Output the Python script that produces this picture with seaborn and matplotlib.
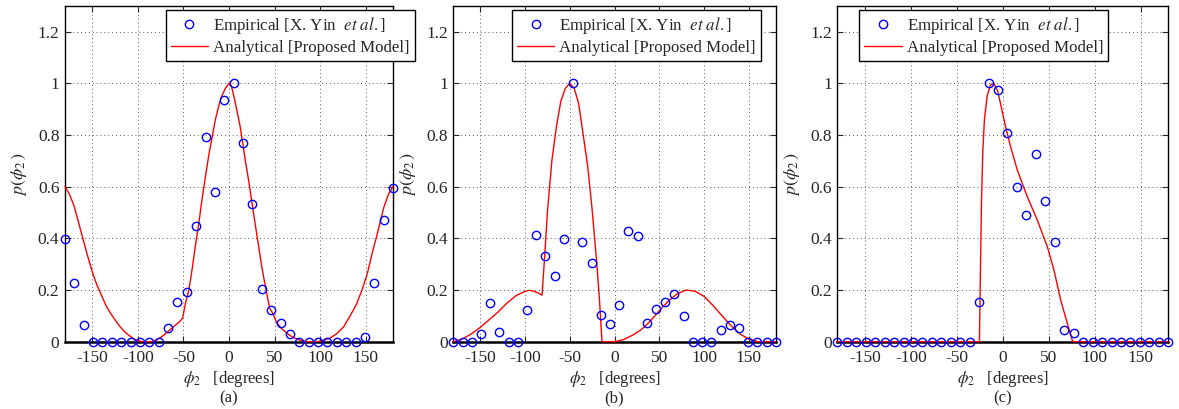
import numpy as np
import pandas as pd
import seaborn as sns
import matplotlib.pyplot as plt

# empirical sample angles (same for all three panels)
phi_emp = [-180.0, -169.7, -159.4, -149.1, -138.9, -128.6, -118.3, -108.0, -97.7, -87.4,
           -77.1, -66.9, -56.6, -46.3, -36.0, -25.7, -15.4, -5.1, 5.1, 15.4,
           25.7, 36.0, 46.3, 56.6, 66.9, 77.1, 87.4, 97.7, 108.0, 118.3,
           128.6, 138.9, 149.1, 159.4, 169.7, 180.0]

emp_a = [0.396, 0.228, 0.065, 0, 0, 0, 0, 0, 0, 0,
         0, 0.054, 0.154, 0.194, 0.448, 0.791, 0.578, 0.935, 1.0, 0.768,
         0.534, 0.204, 0.123, 0.074, 0.028, 0, 0, 0, 0, 0,
         0, 0, 0.019, 0.228, 0.471, 0.596]
emp_b = [0, 0, 0, 0.028, 0.15, 0.036, 0, 0, 0.121, 0.414,
         0.33, 0.253, 0.397, 1.0, 0.385, 0.305, 0.102, 0.067, 0.141, 0.43,
         0.408, 0.071, 0.126, 0.152, 0.185, 0.101, 0, 0, 0, 0.046,
         0.065, 0.054, 0, 0, 0, 0]
emp_c = [0, 0, 0, 0, 0, 0, 0, 0, 0, 0,
         0, 0, 0, 0, 0, 0.155, 1.0, 0.974, 0.808, 0.6,
         0.492, 0.726, 0.545, 0.387, 0.045, 0.032, 0, 0, 0, 0,
         0, 0, 0, 0, 0, 0]

# analytical model curves
phi_a = [-180, -175, -170, -165, -160, -155, -150, -145, -140, -135, -130, -125, -120,
         -115, -110, -105, -100, -95, -90, -85, -80, -75, -70, -65, -60, -55, -51,
         -47, -44, -40, -37, -33, -30, -26, -22, -18, -15, -11, -8, -4, 0,
         3, 6, 9, 12.4, 15, 18, 22, 25.3, 29, 32.6, 36, 40, 44.7, 48, 52.8, 58,
         63.8, 70, 78, 85, 95, 100, 105, 111, 118, 126, 133, 140, 146, 152, 157,
         163, 170, 175, 180]
ana_a = [0.60, 0.57, 0.525, 0.46, 0.395, 0.33, 0.27, 0.22, 0.18, 0.14, 0.11, 0.084, 0.06,
         0.04, 0.025, 0.012, 0.004, 0.0, 0.0, 0.0, 0.006, 0.016, 0.03, 0.045, 0.06, 0.075, 0.09,
         0.16, 0.2, 0.29, 0.368, 0.46, 0.54, 0.635, 0.725, 0.80, 0.858, 0.915, 0.949, 0.98, 1.0,
         0.985, 0.94, 0.89, 0.83, 0.77, 0.70, 0.615, 0.536, 0.45, 0.368, 0.29, 0.213, 0.13, 0.11, 0.071, 0.05,
         0.032, 0.017, 0.006, 0.0, 0.0, 0.002, 0.007, 0.014, 0.03, 0.058, 0.10, 0.145, 0.20, 0.265, 0.34,
         0.42, 0.52, 0.57, 0.60]

phi_b = [-180, -170, -160, -150, -140, -130, -120, -110, -100, -95, -90, -85, -81,
         -78, -75, -70, -65, -60, -55, -50, -45, -40, -35, -30, -25, -20, -17, -14,
         0, 10, 20, 30, 40, 50, 60, 70, 80, 90, 100, 110, 120, 130, 140, 150, 160, 180]
ana_b = [0.0, 0.01, 0.03, 0.055, 0.085, 0.115, 0.15, 0.178, 0.195, 0.199, 0.195, 0.188, 0.18,
         0.33, 0.50, 0.70, 0.83, 0.93, 0.98, 1.0, 0.98, 0.92, 0.80, 0.68, 0.51, 0.31, 0.17, 0.0,
         0.0, 0.008, 0.025, 0.047, 0.08, 0.12, 0.157, 0.185, 0.20, 0.195, 0.175, 0.14, 0.10, 0.062, 0.03, 0.01, 0.0, 0.0]

phi_c = [-180, -25.4, -24.3, -23.2, -21.8, -20, -17, -13.4, -10, -5.4, -1.8, 3, 8.4,
         15.7, 26.6, 37.5, 48.4, 55.6, 63, 70.2, 75.7, 77, 180]
ana_c = [0, 0, 0.28, 0.54, 0.73, 0.86, 0.95, 0.994, 1.0, 0.968, 0.91, 0.832, 0.755,
         0.665, 0.561, 0.471, 0.368, 0.278, 0.161, 0.071, 0.004, 0, 0]

panel_tags = ["(a)", "(b)", "(c)"]
xtick_vals = [-150, -100, -50, 0, 50, 100, 150]
ytick_vals = [0, 0.2, 0.4, 0.6, 0.8, 1.0, 1.2]
ytick_labels = ["0", "0.2", "0.4", "0.6", "0.8", "1", "1.2"]
lbl_emp = r"Empirical [X. Yin  $\mathit{et\ al.}$]"
lbl_ana = "Analytical [Proposed Model]"

sns.set_style("ticks")
plt.rcParams['font.family'] = ['Liberation Serif', 'DejaVu Serif']
plt.rcParams['mathtext.fontset'] = 'stix'
plt.rcParams['axes.unicode_minus'] = False
plt.rcParams['font.size'] = 12.5

fig = plt.figure(figsize=(11.79, 4.09), dpi=100)

boxes = [(0.0551, 0.1646, 0.2782, 0.8215),
         (0.3845, 0.1646, 0.2735, 0.8215),
         (0.7102, 0.1646, 0.2807, 0.8215)]
leg_x = [0.307, 0.182, 0.066]

emp_all = [emp_a, emp_b, emp_c]
curves = [(phi_a, ana_a), (phi_b, ana_b), (phi_c, ana_c)]

for i in range(3):
    ax = fig.add_axes(boxes[i])
    df_e = pd.DataFrame({"phi": phi_emp, "p": emp_all[i]})
    df_c = pd.DataFrame({"phi": curves[i][0], "p": curves[i][1]})

    sns.lineplot(data=df_e, x="phi", y="p", ax=ax, marker="o", linestyle="none",
                 markersize=6, markerfacecolor="none", markeredgecolor="blue",
                 markeredgewidth=1.0, label=lbl_emp, zorder=4)
    sns.lineplot(data=df_c, x="phi", y="p", ax=ax, color="red", linewidth=1.0,
                 sort=False, estimator=None, label=lbl_ana, zorder=3)
    for ln in ax.lines:
        ln.set_clip_on(False)

    ax.set_xlim(-180, 180)
    ax.set_ylim(0, 1.3)
    ax.set_xticks(xtick_vals)
    ax.set_xticklabels([str(v) for v in xtick_vals])
    ax.set_yticks(ytick_vals)
    ax.set_yticklabels(ytick_labels)
    ax.tick_params(direction="in", top=True, right=True, length=4, width=0.8,
                   labelsize=12.5, pad=4)
    ax.tick_params(axis="x", pad=6)
    ax.grid(True, linestyle=(0, (1, 3)), color="0.35", linewidth=0.7)
    for s in ax.spines.values():
        s.set_linewidth(1.0)
        s.set_color("black")
    ax.spines["bottom"].set_linewidth(1.8)

    ax.set_xlabel(r"$\phi_2$   [degrees]", fontsize=12, labelpad=2)
    ax.set_ylabel(r"$p(\phi_2\,)$", fontsize=13, labelpad=6)
    ax.text(0.5, -0.170, panel_tags[i], transform=ax.transAxes, ha="center",
            va="center", fontsize=12)

    leg = ax.legend(loc="upper left", bbox_to_anchor=(leg_x[i], 0.987),
                    fancybox=False, frameon=True, edgecolor="black",
                    framealpha=1, borderpad=0.3, labelspacing=0.2,
                    handlelength=2.2, handletextpad=0.3, borderaxespad=0,
                    fontsize=12.2)
    leg.get_frame().set_linewidth(1.0)

fig.savefig("out.png", dpi=100, facecolor="white")
